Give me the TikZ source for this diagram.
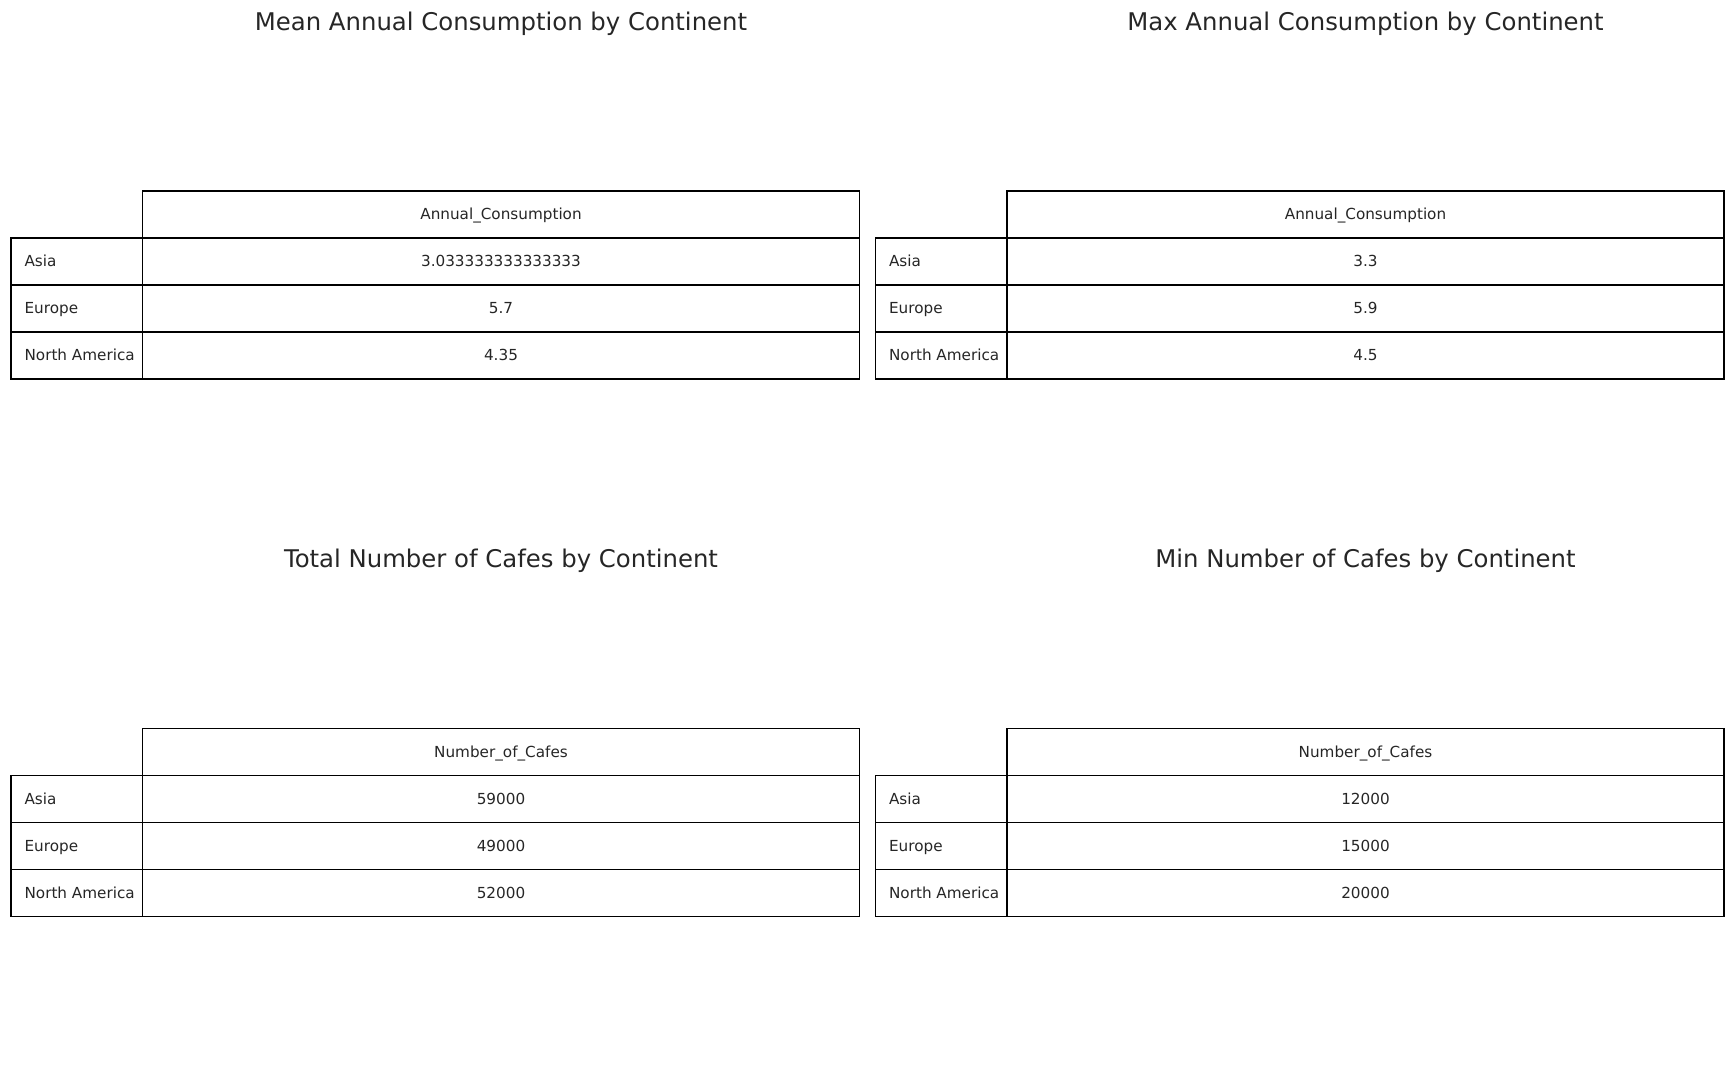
\documentclass[tikz,border=0pt]{standalone}
\usepackage{fontspec}
\setmainfont{DejaVu Sans}
\definecolor{inkgray}{HTML}{262626}
\begin{document}
\begin{tikzpicture}[x=0.254mm, y=-0.254mm,
    rule/.style={line width=1.1pt, black},
    ttl/.style={anchor=base, inner sep=0pt, text=inkgray, font=\fontsize{17.6}{20}\selectfont},
    cell/.style={inner sep=0pt, text height=0.729em, text depth=0pt, text=inkgray, font=\fontsize{11}{13}\selectfont}]
  \useasboundingbox (0,0) rectangle (1734,1080);

  \foreach \id/\x/\y/\ttl/\hdr/\va/\vb/\vc in {
      mean/10.8/191/Mean Annual Consumption by Continent/Annual\_Consumption/3.033333333333333/5.7/4.35,
      max/875.3/191/Max Annual Consumption by Continent/Annual\_Consumption/3.3/5.9/4.5,
      total/10.8/728.5/Total Number of Cafes by Continent/Number\_of\_Cafes/59000/49000/52000,
      min/875.3/728.5/Min Number of Cafes by Continent/Number\_of\_Cafes/12000/15000/20000}
  {
    % Table grid
    \draw[rule] (\x+131.6,\y) rectangle (\x+848.5,\y+47);
    \draw[rule] (\x,\y+47) rectangle (\x+848.5,\y+188);
    \draw[rule] (\x,\y+94) -- (\x+848.5,\y+94);
    \draw[rule] (\x,\y+141) -- (\x+848.5,\y+141);
    \draw[rule] (\x+131.6,\y+47) -- (\x+131.6,\y+188);

    % Title
    \node[ttl] (\id-title) at (\x+490.2,\y-161) {\ttl};

    % Header and rows
    \node[cell] (\id-head) at (\x+490.2,\y+23.5) {\hdr};
    \node[cell, anchor=west] (\id-asia) at (\x+13.5,\y+70.5) {Asia};
    \node[cell, anchor=west] (\id-europe) at (\x+13.5,\y+117.5) {Europe};
    \node[cell, anchor=west] (\id-namerica) at (\x+13.5,\y+164.5) {North America};
    \node[cell] (\id-va) at (\x+490.2,\y+70.5) {\va};
    \node[cell] (\id-vb) at (\x+490.2,\y+117.5) {\vb};
    \node[cell] (\id-vc) at (\x+490.2,\y+164.5) {\vc};
  }
\end{tikzpicture}
\end{document}
